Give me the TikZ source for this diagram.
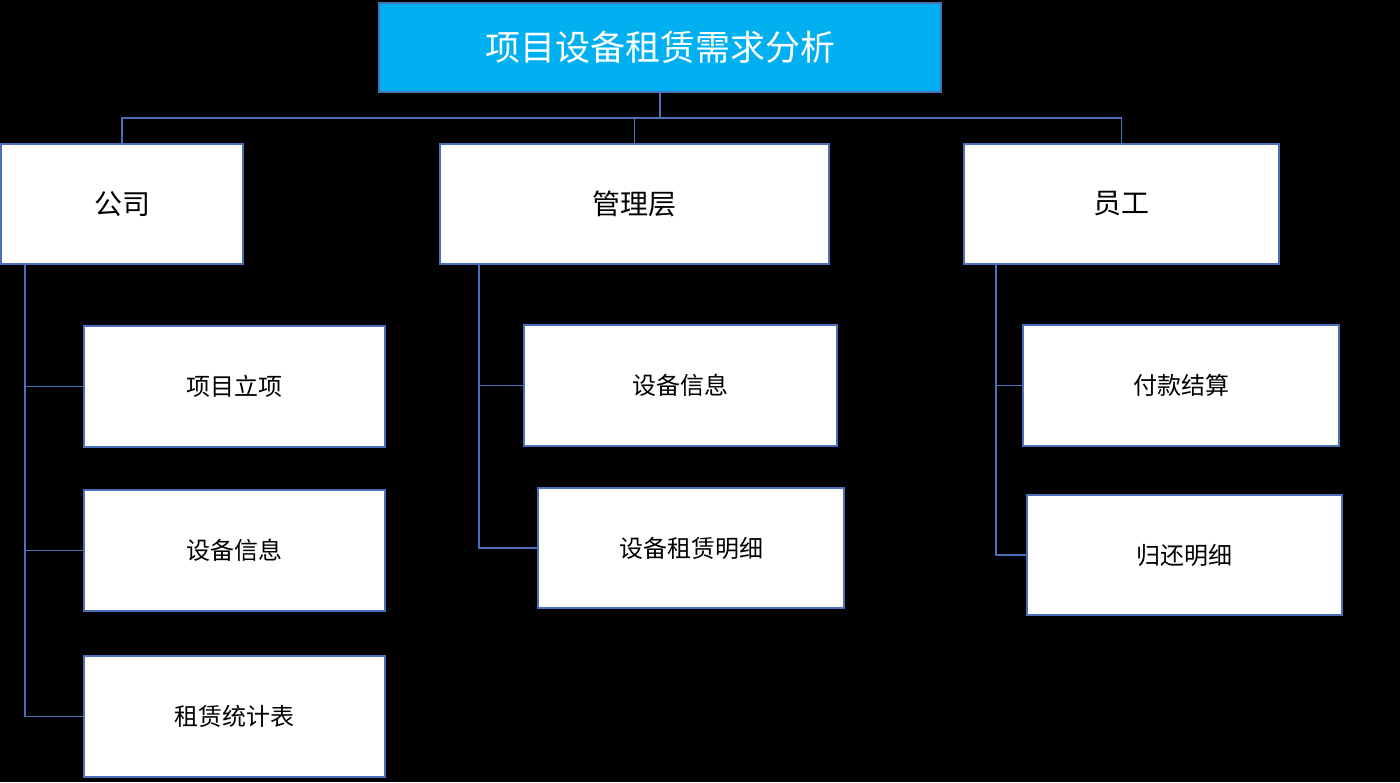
\documentclass[tikz,border=0pt]{standalone}
\usepackage{fontspec}
\setmainfont{Noto Sans CJK SC}
\definecolor{lineblue}{HTML}{4A70B8}
\definecolor{titlefill}{HTML}{00B0F0}
\begin{document}
\begin{tikzpicture}[x=1pt,y=-1pt,
  box/.style={draw=lineblue, line width=1.6pt, fill=white, inner sep=0pt, outer sep=0pt, text=black},
  conn/.style={draw=lineblue, line width=1.6pt}]
\fill[black] (0,0) rectangle (1400,782);
\useasboundingbox (0,0) rectangle (1400,782);
% title
\node[box, fill=titlefill, text=white, minimum width=562pt, minimum height=89pt, font=\fontsize{35}{40}\selectfont] (title) at (660,47.5) {项目设备租赁需求分析};
% level 1
\node[box, minimum width=242pt, minimum height=120pt, font=\fontsize{28}{32}\selectfont] (gs) at (122,204) {公司};
\node[box, minimum width=389pt, minimum height=120pt, font=\fontsize{28}{32}\selectfont] (gl) at (634.5,204) {管理层};
\node[box, minimum width=315pt, minimum height=120pt, font=\fontsize{28}{32}\selectfont] (yg) at (1121.5,204) {员工};
% children
\tikzset{child/.style={box, font=\fontsize{24}{28}\selectfont}}
\node[child, minimum width=301pt, minimum height=121pt] (a1) at (234.5,386.5) {项目立项};
\node[child, minimum width=301pt, minimum height=121pt] (a2) at (234.5,550.5) {设备信息};
\node[child, minimum width=301pt, minimum height=121pt] (a3) at (234.5,716.5) {租赁统计表};
\node[child, minimum width=313pt, minimum height=121pt] (b1) at (680.5,385.5) {设备信息};
\node[child, minimum width=306pt, minimum height=120pt] (b2) at (691,548) {设备租赁明细};
\node[child, minimum width=316pt, minimum height=121pt] (c1) at (1181,385.5) {付款结算};
\node[child, minimum width=315pt, minimum height=120pt] (c2) at (1184.5,555) {归还明细};
% bus
\coordinate (bus) at (660,118);
\draw[conn] (title.south) -- (bus);
\draw[conn] (gs.north) -- (gs.north |- bus) -- (yg.north |- bus) -- (yg.north);
\draw[conn] (gl.north) -- (gl.north |- bus);
% left spine
\coordinate (sa) at (25,264);
\draw[conn] (sa) -- (sa |- a3.west) -- (a3.west);
\draw[conn] (sa |- a1.west) -- (a1.west);
\draw[conn] (sa |- a2.west) -- (a2.west);
% middle spine
\coordinate (sb) at (479,264);
\draw[conn] (sb) -- (sb |- b2.west) -- (b2.west);
\draw[conn] (sb |- b1.west) -- (b1.west);
% right spine
\coordinate (sc) at (996,264);
\draw[conn] (sc) -- (sc |- c2.west) -- (c2.west);
\draw[conn] (sc |- c1.west) -- (c1.west);
\end{tikzpicture}
\end{document}
